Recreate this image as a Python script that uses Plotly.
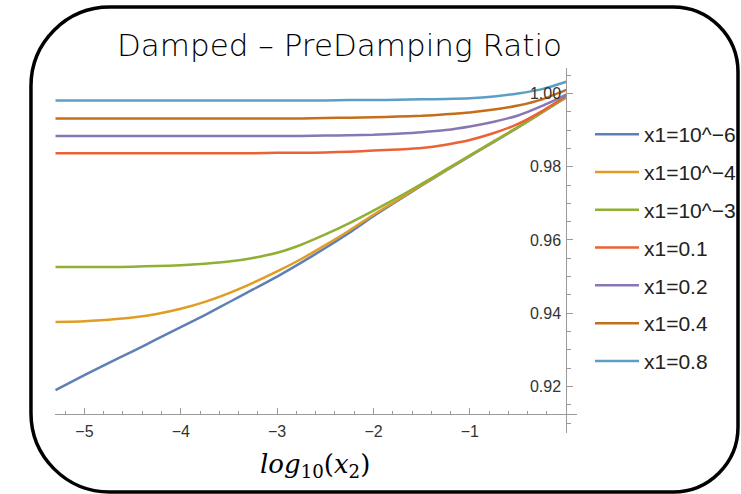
import plotly.graph_objects as go

# log10(x2) sample positions
log_x2 = [-5.3, -5.0, -4.75, -4.5, -4.25, -4.0, -3.75, -3.5, -3.25, -3.0, -2.75,
          -2.5, -2.25, -2.0, -1.75, -1.5, -1.25, -1.0, -0.75, -0.5, -0.25, 0.0]

series_names = ["x1=10^\u22126", "x1=10^\u22124", "x1=10^\u22123",
                "x1=0.1", "x1=0.2", "x1=0.4", "x1=0.8"]

ratio_1e6 = [0.9190, 0.9231, 0.9264, 0.9296, 0.9329, 0.9362, 0.9395, 0.9430, 0.9465, 0.9500, 0.9538,
             0.9578, 0.9620, 0.9665, 0.9707, 0.9749, 0.9789, 0.9829, 0.9868, 0.9907, 0.9948, 0.9990]
ratio_1e4 = [0.9376, 0.9378, 0.9382, 0.9388, 0.9398, 0.9412, 0.9431, 0.9455, 0.9483, 0.9514, 0.9548,
             0.9586, 0.9626, 0.9669, 0.9709, 0.9750, 0.9790, 0.9830, 0.9869, 0.9908, 0.9949, 0.9990]
ratio_1e3 = [0.9526, 0.9526, 0.9526, 0.9527, 0.9529, 0.9531, 0.9535, 0.9541, 0.9551, 0.9565, 0.9587,
             0.9615, 0.9646, 0.9680, 0.9716, 0.9753, 0.9792, 0.9831, 0.9870, 0.9908, 0.9949, 0.9990]
ratio_0p1 = [0.9837, 0.9837, 0.9837, 0.9837, 0.9837, 0.9837, 0.9837, 0.9837, 0.9837, 0.9838, 0.9838,
             0.9839, 0.9841, 0.9844, 0.9847, 0.9851, 0.9860, 0.9873, 0.9892, 0.9917, 0.9952, 0.9993]
ratio_0p2 = [0.9884, 0.9884, 0.9884, 0.9884, 0.9884, 0.9884, 0.9884, 0.9884, 0.9884, 0.9884, 0.9884,
             0.9885, 0.9886, 0.9887, 0.9890, 0.9894, 0.9900, 0.9910, 0.9923, 0.9940, 0.9966, 0.9997]
ratio_0p4 = [0.9932, 0.9932, 0.9932, 0.9932, 0.9932, 0.9932, 0.9932, 0.9932, 0.9932, 0.9932, 0.9932,
             0.9933, 0.9934, 0.9935, 0.9937, 0.9939, 0.9943, 0.9948, 0.9956, 0.9967, 0.9984, 1.0010]
ratio_0p8 = [0.9981, 0.9981, 0.9981, 0.9981, 0.9981, 0.9981, 0.9981, 0.9981, 0.9981, 0.9981, 0.9981,
             0.9981, 0.9982, 0.9982, 0.9983, 0.9984, 0.9985, 0.9987, 0.9992, 1.0000, 1.0012, 1.0032]

series_values = [ratio_1e6, ratio_1e4, ratio_1e3, ratio_0p1, ratio_0p2, ratio_0p4, ratio_0p8]
series_colors = ["#5E81B5", "#E19C24", "#8FB032", "#EB6235", "#8778B3", "#C56E1A", "#5D9EC7"]

x_tick_vals = [-5, -4, -3, -2, -1]
x_tick_text = ["\u22125", "\u22124", "\u22123", "\u22122", "\u22121"]
y_tick_vals = [0.92, 0.94, 0.96, 0.98, 1.00]
y_tick_text = ["0.92", "0.94", "0.96", "0.98", "1.00"]

title_text = "Damped \u2013 PreDamping Ratio"
x_title_text = "<i>log</i><sub>10</sub>(<i>x</i><sub>2</sub>)"

W, H = 741, 494


def px(v):
    return v / W


def py(v):
    return 1 - v / H


fig = go.Figure()
for name, vals, col in zip(series_names, series_values, series_colors):
    fig.add_trace(go.Scatter(
        x=log_x2, y=vals, mode="lines", name=name, legendgroup=name,
        line=dict(color=col, width=2.5, shape="spline", smoothing=0.6),
        hoverinfo="skip",
    ))

x_minor = [round(-5.2 + 0.2 * i, 1) for i in range(27)]
x_minor = [v for v in x_minor if abs(v - round(v)) > 1e-6 and v < 0]
y_minor = [round(0.910 + 0.005 * i, 3) for i in range(20)]
y_minor = [v for v in y_minor if round(v * 1000) % 20 != 0]

axis_gray = "#9a9a9a"
label_font = "Liberation Sans, Arial, sans-serif"

fig.update_layout(
    width=W, height=H,
    margin=dict(l=0, r=0, t=0, b=0),
    paper_bgcolor="white", plot_bgcolor="rgba(0,0,0,0)",
    showlegend=True,
    legend=dict(
        x=px(591), y=py(114), xanchor="left", yanchor="top",
        bgcolor="rgba(0,0,0,0)", borderwidth=0,
        font=dict(family=label_font, size=21, color="#222"),
        tracegroupgap=7.5, itemwidth=44,
    ),
    xaxis=dict(
        range=[-5.306, 0.114], domain=[px(55), px(578)],
        anchor="free", position=py(414),
        showline=True, linecolor=axis_gray, linewidth=1,
        showgrid=False, zeroline=False,
        tickmode="array", tickvals=x_tick_vals, ticktext=x_tick_text,
        ticks="inside", ticklen=6, tickcolor=axis_gray, tickwidth=1,
        tickfont=dict(family=label_font, size=16, color="#333"),
        ticklabelstandoff=3,
        minor=dict(tickmode="array", tickvals=x_minor, ticks="inside",
                   ticklen=3.5, tickcolor=axis_gray, showgrid=False),
        automargin=False,
    ),
    yaxis=dict(
        range=[0.90729, 1.00696], domain=[py(433), py(68)],
        anchor="free", position=px(567), side="left",
        showline=True, linecolor=axis_gray, linewidth=1,
        showgrid=False, zeroline=False,
        tickmode="array", tickvals=y_tick_vals, ticktext=y_tick_text,
        ticks="inside", ticklen=6, tickcolor=axis_gray, tickwidth=1,
        tickfont=dict(family=label_font, size=16, color="#333"),
        ticklabelstandoff=2,
        minor=dict(tickmode="array", tickvals=y_minor, ticks="inside",
                   ticklen=3.5, tickcolor=axis_gray, showgrid=False),
        automargin=False,
    ),
)

# title and axis label
fig.add_annotation(
    text=title_text, x=px(340), y=py(45), xref="paper", yref="paper",
    xanchor="center", yanchor="middle", showarrow=False,
    font=dict(family="DejaVu Sans, sans-serif", size=31, color="black", weight=200),
)
fig.add_annotation(
    text=x_title_text, x=px(315), y=py(465), xref="paper", yref="paper",
    xanchor="center", yanchor="middle", showarrow=False,
    font=dict(family="DejaVu Serif, serif", size=26, color="black"),
)

# rounded frame around the whole panel
left, right, top, bottom = 31, 739, 7, 492
rl, rr = 79, 65
k = 0.5523


def P(xp, yp):
    return f"{px(xp):.5f},{py(yp):.5f}"


frame = (
    f"M {P(left + rl, top)} L {P(right - rr, top)} "
    f"C {P(right - rr + k * rr, top)} {P(right, top + rr - k * rr)} {P(right, top + rr)} "
    f"L {P(right, bottom - rr)} "
    f"C {P(right, bottom - rr + k * rr)} {P(right - rr + k * rr, bottom)} {P(right - rr, bottom)} "
    f"L {P(left + rl, bottom)} "
    f"C {P(left + rl - k * rl, bottom)} {P(left, bottom - rl + k * rl)} {P(left, bottom - rl)} "
    f"L {P(left, top + rl)} "
    f"C {P(left, top + rl - k * rl)} {P(left + rl - k * rl, top)} {P(left + rl, top)} Z"
)
fig.add_shape(type="path", path=frame, xref="paper", yref="paper",
              line=dict(color="black", width=3.5), layer="above")

fig.write_html("out.html", config={"displayModeBar": False})
